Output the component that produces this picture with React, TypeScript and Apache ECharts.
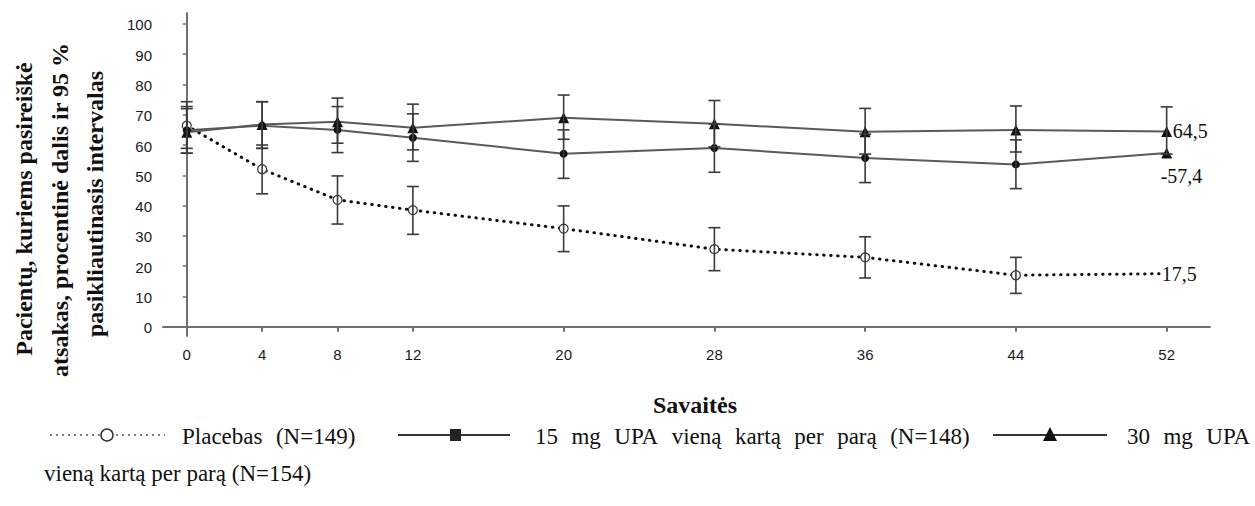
import React, { useEffect, useRef } from "react";
import * as echarts from "echarts";

const weeks = [0, 4, 8, 12, 20, 28, 36, 44, 52];
const placebo = [66.4, 52.0, 41.9, 38.5, 32.4, 25.6, 22.9, 17.0, 17.5];
const placeboLow = [58.9, 43.9, 33.9, 30.5, 24.8, 18.5, 16.1, 11.0, null];
const placeboHigh = [74.3, 60.0, 49.8, 46.3, 39.9, 32.7, 29.7, 22.9, null];
const upa15 = [64.9, 66.4, 65.0, 62.4, 57.1, 59.0, 55.7, 53.6, 57.4];
const upa15Low = [57.3, 58.9, 57.5, 54.6, 49.0, 51.0, 47.6, 45.6, null];
const upa15High = [72.7, 74.3, 72.7, 70.3, 65.0, 67.0, 63.6, 61.7, null];
const upa30 = [64.2, 66.8, 67.7, 65.7, 69.0, 67.0, 64.4, 65.0, 64.5];
const upa30Low = [57.3, 58.9, 60.6, 58.4, 61.9, 59.4, 57.0, 57.7, 57.0];
const upa30High = [72.0, 74.3, 75.5, 73.5, 76.5, 74.7, 72.1, 72.9, 72.6];
const yTicks = [0, 10, 20, 30, 40, 50, 60, 70, 80, 90, 100];
const endLabels = ["17,5", "-57,4", "64,5"];
const legendNames = [
  "Placebas (N=149)",
  "15 mg UPA vieną kartą per parą (N=148)",
  "30 mg UPA",
  "vieną kartą per parą (N=154)",
];
const yTitleLines = [
  "Pacientų, kuriems pasireiškė",
  "atsakas, procentinė dalis ir 95 %",
  "pasikliautinasis intervalas",
];
const xTitle = "Savaitės";

const X_MIN = -1.26;
const X_MAX = 54.3;
const Y_MIN = -3.07;
const Y_MAX = 103.6;

const serif = "'Liberation Serif', 'Times New Roman', serif";
const sans = "'Liberation Sans', Arial, sans-serif";

function errData(lows: (number | null)[], highs: (number | null)[]) {
  const out: number[][] = [];
  weeks.forEach((w, i) => {
    const lo = lows[i];
    const hi = highs[i];
    if (lo != null && hi != null) out.push([w, lo, hi]);
  });
  return out;
}

const errRender = (params: any, api: any) => {
  const x = api.value(0);
  const lo = api.coord([x, api.value(1)]);
  const hi = api.coord([x, api.value(2)]);
  const cw = 6;
  const st = { stroke: "#3a3a3a", lineWidth: 1.6 };
  return {
    type: "group",
    children: [
      { type: "line", shape: { x1: lo[0], y1: lo[1], x2: hi[0], y2: hi[1] }, style: st },
      { type: "line", shape: { x1: lo[0] - cw, y1: lo[1], x2: lo[0] + cw, y2: lo[1] }, style: st },
      { type: "line", shape: { x1: hi[0] - cw, y1: hi[1], x2: hi[0] + cw, y2: hi[1] }, style: st },
    ],
  };
};

const endLabelOffsets = [
  [-5, 0],
  [-6, 23],
  [6, 0],
];

let measureCtx: CanvasRenderingContext2D | null = null;
function measure(text: string, font: string) {
  if (!measureCtx) measureCtx = document.createElement("canvas").getContext("2d");
  if (!measureCtx) return text.length * 10;
  measureCtx.font = font;
  return measureCtx.measureText(text).width;
}

// justified text: words placed with widened spaces
function justified(text: string, x: number, y: number, font: string, extra: number) {
  const words = text.split(" ");
  const space = measure(" ", font) + extra;
  let cx = x;
  return words.map((w) => {
    const el = {
      type: "text",
      x: cx,
      y,
      style: { text: w, font, fill: "#111", textVerticalAlign: "middle" },
    };
    cx += measure(w, font) + space;
    return el;
  });
}

const tickFont = `15px ${sans}`;

export default function App() {
  const ref = useRef<HTMLDivElement>(null);
  useEffect(() => {
    if (!ref.current) return;
    const chart = echarts.init(ref.current, undefined, { renderer: "svg" });
    const last = weeks.length - 1;
    const endData = [
      [weeks[last], placebo[last], 0],
      [weeks[last], upa15[last], 1],
      [weeks[last], upa30[last], 2],
    ];
    const lf = `23px ${serif}`;
    const r1 = 435;
    const r2 = 473;
    const extra = 7.7;
    const option: any = {
      animation: false,
      backgroundColor: "#ffffff",
      grid: { left: 163, right: 45, top: 13, bottom: 170, containLabel: false },
      xAxis: {
        type: "value",
        min: X_MIN,
        max: X_MAX,
        splitLine: { show: false },
        axisLine: { show: true, lineStyle: { color: "#707070", width: 2 } },
        axisTick: { show: true, customValues: weeks, length: 5, lineStyle: { color: "#707070", width: 2 } },
        axisLabel: { show: false },
      },
      yAxis: {
        type: "value",
        min: Y_MIN,
        max: Y_MAX,
        splitLine: { show: false },
        axisLine: { show: true, lineStyle: { color: "#707070", width: 2 } },
        axisTick: { show: true, customValues: yTicks, length: 4, lineStyle: { color: "#707070", width: 1.5 } },
        axisLabel: { show: false },
      },
      series: [
        {
          name: legendNames[0],
          type: "line",
          data: weeks.map((w, i) => (i === last ? { value: [w, placebo[i]], symbol: "none" } : [w, placebo[i]])),
          symbol: "circle",
          symbolSize: 9,
          itemStyle: { color: "#ffffff", borderColor: "#333", borderWidth: 1.2 },
          lineStyle: { color: "#111", width: 3, type: [0.5, 6.5], cap: "round" },
          z: 3,
        },
        {
          name: legendNames[1],
          type: "line",
          data: weeks.map((w, i) => (i === last ? { value: [w, upa15[i]], symbol: "triangle", symbolSize: 11 } : [w, upa15[i]])),
          symbol: "circle",
          symbolSize: 8,
          itemStyle: { color: "#111" },
          lineStyle: { color: "#5a5a5a", width: 2 },
          z: 3,
        },
        {
          name: legendNames[2],
          type: "line",
          data: weeks.map((w, i) => [w, upa30[i]]),
          symbol: "triangle",
          symbolSize: 11,
          itemStyle: { color: "#111" },
          lineStyle: { color: "#5a5a5a", width: 2 },
          z: 3,
        },
        { type: "custom", renderItem: errRender, data: errData(placeboLow, placeboHigh), z: 4 },
        { type: "custom", renderItem: errRender, data: errData(upa15Low, upa15High), z: 4 },
        { type: "custom", renderItem: errRender, data: errData(upa30Low, upa30High), z: 4 },
        {
          type: "custom",
          z: 5,
          clip: false,
          data: endData,
          renderItem: (params: any, api: any) => {
            const p = api.coord([api.value(0), api.value(1)]);
            const k = api.value(2);
            const off = endLabelOffsets[k];
            return {
              type: "text",
              x: p[0] + off[0],
              y: p[1] + off[1],
              style: {
                text: endLabels[k],
                fill: "#111",
                font: `20px ${serif}`,
                textAlign: "left",
                textVerticalAlign: "middle",
                backgroundColor: "#fff",
              },
            };
          },
        },
        // y tick labels
        {
          type: "custom",
          clip: false,
          silent: true,
          data: yTicks.map((v) => [X_MIN, v]),
          renderItem: (params: any, api: any) => {
            const p = api.coord([api.value(0), api.value(1)]);
            return {
              type: "text",
              x: p[0] - 11,
              y: p[1] + 1,
              style: { text: String(api.value(1)), font: tickFont, fill: "#1a1a1a", textAlign: "right", textVerticalAlign: "middle" },
            };
          },
        },
        // x tick labels
        {
          type: "custom",
          clip: false,
          silent: true,
          data: weeks.map((w) => [w, Y_MIN]),
          renderItem: (params: any, api: any) => {
            const p = api.coord([api.value(0), api.value(1)]);
            return {
              type: "text",
              x: p[0],
              y: p[1] + 18,
              style: { text: String(api.value(0)), font: tickFont, fill: "#1a1a1a", textAlign: "center", textVerticalAlign: "middle" },
            };
          },
        },
      ],
      graphic: [
        ...yTitleLines.map((t, i) => ({
          type: "text",
          x: [24, 60, 95][i],
          y: [209, 210, 204][i],
          rotation: Math.PI / 2,
          style: {
            text: t,
            font: `bold 24px ${serif}`,
            fill: "#111",
            textAlign: "center",
            textVerticalAlign: "middle",
          },
        })),
        {
          type: "text",
          x: 695,
          y: 405,
          style: { text: xTitle, font: `bold 24px ${serif}`, fill: "#111", textAlign: "center", textVerticalAlign: "middle" },
        },
        // legend row 1
        { type: "line", shape: { x1: 50, y1: r1, x2: 165, y2: r1 }, style: { stroke: "#555", lineWidth: 1.6, lineDash: [2, 4] } },
        { type: "circle", shape: { cx: 107, cy: r1, r: 6 }, style: { fill: "#fff", stroke: "#333", lineWidth: 1.5 } },
        ...justified(legendNames[0], 182, r1 + 1, lf, extra),
        { type: "line", shape: { x1: 398, y1: r1, x2: 510, y2: r1 }, style: { stroke: "#333", lineWidth: 2 } },
        { type: "rect", shape: { x: 450, y: r1 - 6, width: 11, height: 12 }, style: { fill: "#222" } },
        ...justified(legendNames[1], 535, r1 + 1, lf, extra),
        { type: "line", shape: { x1: 993, y1: r1, x2: 1107, y2: r1 }, style: { stroke: "#333", lineWidth: 2 } },
        { type: "polygon", shape: { points: [[1050, r1 - 8], [1057, r1 + 6], [1043, r1 + 6]] }, style: { fill: "#111" } },
        ...justified(legendNames[2], 1127, r1 + 1, lf, extra),
        { type: "text", x: 44, y: r2, style: { text: legendNames[3], font: lf, fill: "#111", textVerticalAlign: "middle" } },
      ],
    };
    chart.setOption(option);
    return () => chart.dispose();
  }, []);
  return (
    <div
      ref={ref}
      style={{ position: "fixed", left: 0, top: 0, width: 1255, height: 506, background: "#fff" }}
    />
  );
}
